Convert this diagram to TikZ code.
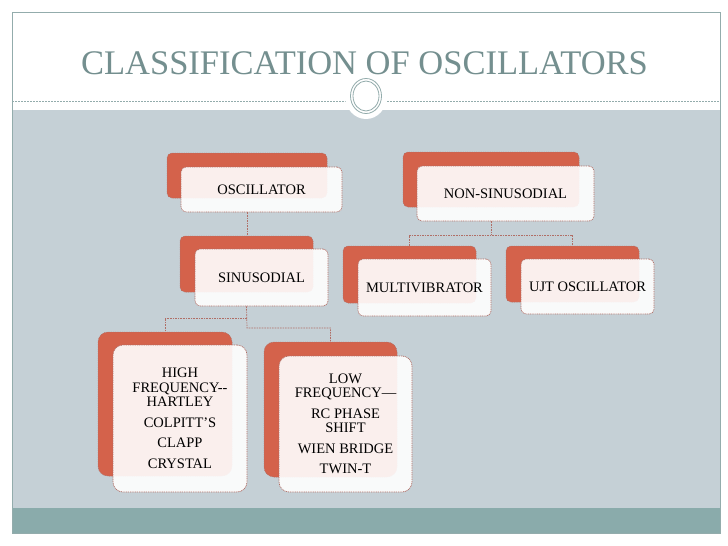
\documentclass[tikz,border=0pt]{standalone}
\usepackage{fontspec}
\setmainfont{Liberation Serif}
\usetikzlibrary{calc}
\definecolor{bggray}{HTML}{C5D0D6}
\definecolor{bandteal}{HTML}{8AABAB}
\definecolor{frameteal}{HTML}{93ACAC}
\definecolor{titlec}{HTML}{748F8F}
\definecolor{boxorange}{HTML}{D4624B}
\definecolor{dashc}{HTML}{B06E66}
\tikzset{
  backbox/.style={rectangle, rounded corners=#1, fill=boxorange, draw=dashc,
    dash pattern=on 1pt off 0.8pt, line width=0.5pt, inner sep=0pt},
  backbox/.default=5pt,
  frontbox/.style={rectangle, rounded corners=#1, fill=white, fill opacity=0.9,
    text opacity=1, draw=dashc, dash pattern=on 1pt off 0.8pt, line width=0.7pt,
    inner sep=0pt, align=center, font=\fontsize{14.5}{14.5}\selectfont},
  frontbox/.default=5pt,
  conn/.style={draw=dashc, dash pattern=on 1.6pt off 1pt, line width=0.7pt},
}
\begin{document}
\begin{tikzpicture}[x=1pt,y=-1pt]
\useasboundingbox (0,0) rectangle (728,546);
\fill[white] (0,0) rectangle (728,546);
% slide frame and bands
\fill[bggray] (12,110) rectangle (720,508);
\fill[bandteal] (12,508) rectangle (720,533);
\draw[frameteal, line width=0.8pt] (12,12) rectangle (720,533);
\draw[frameteal, dash pattern=on 2pt off 1pt, line width=0.5pt] (12,101) -- (720,101);
\fill[white] (366,96) ellipse [x radius=21, y radius=23];
\draw[frameteal, line width=0.8pt] (366,96) ellipse [x radius=15.5, y radius=17.5];
\draw[frameteal, line width=0.8pt] (366,96) ellipse [x radius=13, y radius=15];
\node[titlec, anchor=base, font=\fontsize{34.5}{34.5}\selectfont] (title) at (364.5,74) {CLASSIFICATION OF OSCILLATORS};
% boxes
\node[backbox, minimum width=160pt, minimum height=45pt] (oscB) at (247,175.5) {};
\node[frontbox, minimum width=161pt, minimum height=45pt] (osc) at (261.5,189.5) {OSCILLATOR};
\node[backbox, minimum width=133pt, minimum height=56pt] (sinB) at (246.5,264) {};
\node[frontbox, minimum width=133pt, minimum height=57pt] (sin) at (261.5,277.5) {SINUSODIAL};
\node[backbox, minimum width=176pt, minimum height=55pt] (nonB) at (491,179.5) {};
\node[frontbox, minimum width=177pt, minimum height=55pt] (non) at (505.5,193.5) {NON-SINUSODIAL};
\node[backbox, minimum width=133pt, minimum height=57pt] (multB) at (409.5,274.5) {};
\node[frontbox, minimum width=133pt, minimum height=57pt] (mult) at (424.5,287.5) {MULTIVIBRATOR};
\node[backbox, minimum width=133pt, minimum height=56pt] (ujtB) at (572.5,274) {};
\node[frontbox, minimum width=133pt, minimum height=55pt] (ujt) at (587.5,286.5) {UJT OSCILLATOR};
\node[backbox=10pt, minimum width=134pt, minimum height=144pt] (highB) at (165,404) {};
\node[frontbox=10pt, minimum width=134pt, minimum height=147pt] (high) at (180,418.5) {HIGH\\FREQUENCY{-}{-}\\HARTLEY\\[6pt]COLPITT'S\\[6pt]CLAPP\\[6pt]CRYSTAL};
\node[backbox=10pt, minimum width=133pt, minimum height=135pt] (lowB) at (330.5,409.5) {};
\node[frontbox=10pt, minimum width=133pt, minimum height=136pt] (low) at (345.5,424) {LOW\\FREQUENCY—\\[6pt]RC PHASE\\SHIFT\\[6pt]WIEN BRIDGE\\[6pt]TWIN-T};
% connectors
\coordinate (j1) at (247,318);
\coordinate (j2) at (247,328);
\coordinate (j3) at (491,235);
\draw[conn] (oscB.south |- osc.south) -- (oscB.south |- sinB.north);
\draw[conn] (sinB.south |- sin.south) -- (j2) -- (j2 -| lowB.north) -- (lowB.north);
\draw[conn] (j1) -- (j1 -| highB.north) -- (highB.north);
\draw[conn] (nonB.south |- non.south) -- (j3);
\draw[conn] (multB.north) -- (multB.north |- j3) -- (ujtB.north |- j3) -- (ujtB.north);
\end{tikzpicture}
\end{document}
